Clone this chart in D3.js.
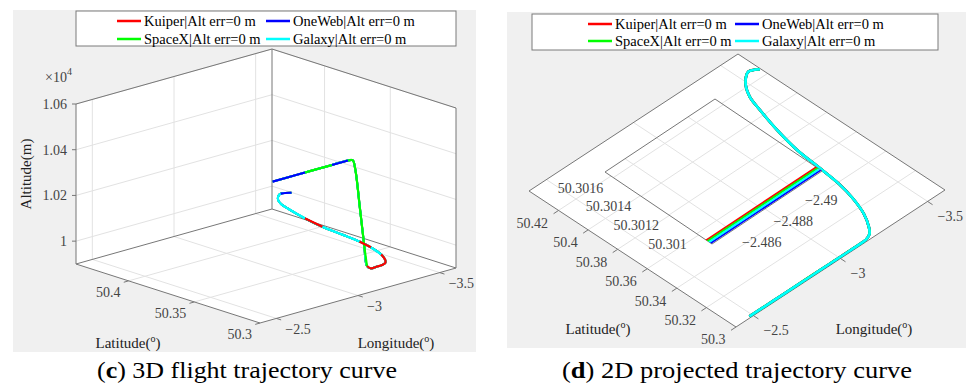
<!DOCTYPE html>
<html>
<head>
<meta charset="utf-8">
<script src="https://cdn.jsdelivr.net/npm/d3@7"></script>
<style>
  body { margin: 0; background: #fff; }
  svg { display: block; font-family: "Liberation Serif", "Times New Roman", serif; }
</style>
</head>
<body>
<svg id="chart" width="971" height="387"></svg>
<script>
// series (all four share the same track, alt error 0 m)
const seriesNames = ["Kuiper", "OneWeb", "SpaceX", "Galaxy"];
const seriesColors = ["#ff0000", "#0000ff", "#00ff00", "#00ffff"];
const altErr = [0, 0, 0, 0];
const latOffset = [0.000031, 0, 0.000021, 0.000010]; // tiny spread, only visible in the zoomed inset

// flight track
const trackLat = [50.3009, 50.3009, 50.3009, 50.3009, 50.3009, 50.3009, 50.3009, 50.3009, 50.3009, 50.3009,
  50.3009, 50.3009, 50.3009, 50.3011, 50.3028, 50.3064, 50.3150, 50.3275, 50.3390, 50.3534,
  50.3706, 50.3877, 50.4037, 50.4138, 50.4203, 50.4256, 50.4274, 50.4266, 50.4247];
const trackLon = [-2.4847, -2.580, -2.683, -2.770, -2.848, -2.946, -2.975, -2.990, -3.020, -3.045,
  -3.062, -3.085, -3.125, -3.156, -3.190, -3.218, -3.262, -3.300, -3.322, -3.336,
  -3.350, -3.380, -3.418, -3.446, -3.479, -3.524, -3.552, -3.574, -3.596];
const trackAlt = [10500, 10500, 10500, 10500, 10500, 10500, 10495, 10455, 10270, 10110,
  10015, 10000, 10000, 10000, 10000, 10000, 10000, 10000, 10000, 10000,
  10000, 10000, 10000, 10000, 10000, 10000, 10000, 10000, 10000];

// which series shows on top along the 3D track (point index ranges)
const topRuns3d = [[1, 0, 2], [2, 2, 4], [1, 4, 5], [2, 5, 10], [0, 10, 16], [3, 16, 17],
  [0, 17, 18], [3, 18, 20], [0, 20, 21], [3, 21, 26], [1, 26, 28]];

// axes
const latDomain = [50.3, 50.44];
const lonDomain = [-2.4, -3.6];
const altDomain = [9900, 10600];
const latTicks3d = [50.3, 50.35, 50.4];
const lonTicks = [-2.5, -3, -3.5];
const altTicks = [10000, 10200, 10400, 10600];
const latTicks2d = [50.3, 50.32, 50.34, 50.36, 50.38, 50.4, 50.42];
const insetLatDomain = [50.30089, 50.30166];
const insetLonDomain = [-2.48473, -2.49171];
const insetLatTicks = [50.301, 50.3012, 50.3014, 50.3016];
const insetLonTicks = [-2.486, -2.488, -2.49];

const svg = d3.select("#chart");
const gridColor = "#e2e2e2", boxColor = "#777", tickText = "#444";

// projection of (lat, lon, alt) onto the picture plane
function makeProj(o, uVec, vVec, wVec, latDom, lonDom, altDom) {
  const su = d3.scaleLinear().domain(latDom).range([0, 1]);
  const sv = d3.scaleLinear().domain(lonDom).range([0, 1]);
  const sw = d3.scaleLinear().domain(altDom).range([0, 1]);
  return (lat, lon, alt) => {
    const u = su(lat), v = sv(lon), w = alt == null ? 0 : sw(alt);
    return [o[0] + u * uVec[0] + v * vVec[0] + w * wVec[0],
            o[1] + u * uVec[1] + v * vVec[1] + w * wVec[1]];
  };
}
const seg = (g, a, b, color, width) => g.append("line")
  .attr("x1", a[0]).attr("y1", a[1]).attr("x2", b[0]).attr("y2", b[1])
  .attr("stroke", color).attr("stroke-width", width || 1);

// panel backgrounds
svg.append("rect").attr("x", 13).attr("y", 10).attr("width", 463).attr("height", 342).attr("fill", "#f0f0f0");
svg.append("rect").attr("x", 507).attr("y", 12).attr("width", 459).attr("height", 336).attr("fill", "#f0f0f0");

function legend(x, y, w, h, lx, rowY) {
  const g = svg.append("g");
  g.append("rect").attr("x", x).attr("y", y).attr("width", w).attr("height", h)
    .attr("fill", "#fff").attr("stroke", "#7a7a7a");
  seriesNames.forEach((name, i) => {
    const cx = lx[i % 2], cy = rowY[Math.floor(i / 2)];
    seg(g, [cx, cy], [cx + 24, cy], seriesColors[i], 2.5);
    g.append("text").attr("x", cx + 27).attr("y", cy + 5).attr("font-size", 14.5)
      .attr("fill", "#000").text(`${name}|Alt err=${altErr[i]} m`);
  });
}

function degLabel(g, x, y, word) {
  const t = g.append("text").attr("x", x).attr("y", y).attr("text-anchor", "middle")
    .attr("font-size", 15).attr("fill", "#222").text(word + "(");
  t.append("tspan").attr("dy", -6).attr("font-size", 10).text("o");
  t.append("tspan").attr("dy", 6).text(")");
}

// ---------- (c) 3D view ----------
{
  const P = makeProj([260, 323], [-184, -59], [196, -55], [0, -160], latDomain, lonDomain, altDomain);
  const g = svg.append("g");
  const [la0, la1] = latDomain, [lo0, lo1] = lonDomain, [a0, a1] = altDomain;
  const poly = [P(la1, lo0, a1), P(la1, lo1, a1), P(la0, lo1, a1), P(la0, lo1, a0), P(la0, lo0, a0), P(la1, lo0, a0)];
  g.append("polygon").attr("points", poly.map(p => p.join(",")).join(" ")).attr("fill", "#fff");

  // grid: floor, left wall (lat max), right wall (lon max)
  latTicks3d.slice(1).forEach(t => {
    seg(g, P(t, lo0, a0), P(t, lo1, a0), gridColor);
    seg(g, P(t, lo1, a0), P(t, lo1, a1), gridColor);
  });
  lonTicks.forEach(t => {
    seg(g, P(la0, t, a0), P(la1, t, a0), gridColor);
    seg(g, P(la1, t, a0), P(la1, t, a1), gridColor);
  });
  altTicks.forEach(t => {
    seg(g, P(la1, lo0, t), P(la1, lo1, t), gridColor);
    seg(g, P(la1, lo1, t), P(la0, lo1, t), gridColor);
  });

  // box
  [[P(la1, lo0, a0), P(la1, lo0, a1)], [P(la1, lo1, a0), P(la1, lo1, a1)], [P(la0, lo1, a0), P(la0, lo1, a1)],
   [P(la1, lo0, a1), P(la1, lo1, a1)], [P(la1, lo1, a1), P(la0, lo1, a1)],
   [P(la1, lo0, a0), P(la1, lo1, a0)], [P(la1, lo1, a0), P(la0, lo1, a0)],
   [P(la0, lo0, a0), P(la1, lo0, a0)], [P(la0, lo0, a0), P(la0, lo1, a0)]]
    .forEach(([a, b]) => seg(g, a, b, boxColor));

  // ticks and labels
  altTicks.forEach(t => {
    const p = P(la1, lo0, t);
    seg(g, [p[0] - 4, p[1]], p, boxColor);
    g.append("text").attr("x", p[0] - 9).attr("y", p[1]).attr("dy", "0.35em")
      .attr("text-anchor", "end").attr("font-size", 14).attr("fill", tickText).text(d3.format(".2f")(t / 1e4).replace(/^1\.00$/, "1"));
  });
  latTicks3d.forEach(t => {
    const p = P(t, lo0, a0);
    seg(g, p, [p[0] - 4.8, p[1] + 1.4], boxColor);
    g.append("text").attr("x", p[0] - 8).attr("y", p[1] + 11).attr("dy", "0.35em")
      .attr("text-anchor", "end").attr("font-size", 14).attr("fill", tickText).text(String(t));
  });
  lonTicks.forEach(t => {
    const p = P(la0, t, a0);
    seg(g, p, [p[0] + 4.8, p[1] + 1.5], boxColor);
    g.append("text").attr("x", p[0] + 9).attr("y", p[1] + 11).attr("dy", "0.35em")
      .attr("font-size", 14).attr("fill", tickText).text(String(t).replace("-", "\u2212"));
  });
  const ex = g.append("text").attr("x", 45).attr("y", 82).attr("font-size", 14).attr("fill", tickText).text("\u00d710");
  ex.append("tspan").attr("dy", -7).attr("font-size", 10).text("4");

  g.append("text").attr("transform", "translate(31,174) rotate(-90)").attr("text-anchor", "middle")
    .attr("font-size", 15).attr("fill", "#222").text("Altitude(m)");
  degLabel(g, 128, 348, "Latitude");
  degLabel(g, 396, 348, "Longitude");

  // track
  const idx = d3.range(trackLat.length);
  const line = d3.line().curve(d3.curveCatmullRom.alpha(0.5))
    .x(i => P(trackLat[i], trackLon[i], trackAlt[i])[0])
    .y(i => P(trackLat[i], trackLon[i], trackAlt[i])[1]);
  seriesNames.forEach((s, k) => {
    g.append("path").attr("d", line(idx)).attr("fill", "none")
      .attr("stroke", seriesColors[k]).attr("stroke-width", 2);
  });
  topRuns3d.forEach(([k, from, to]) => {
    g.append("path").attr("d", line(d3.range(from, to + 1))).attr("fill", "none")
      .attr("stroke", seriesColors[k]).attr("stroke-width", 2.2);
  });

  legend(76, 11, 380, 35, [117, 266], [21, 39]);
}

// ---------- (d) 2D projection ----------
{
  const P = makeProj([736, 327], [-207, -136], [209, -137], [0, 0], latDomain, lonDomain, altDomain);
  const g = svg.append("g");
  const [la0, la1] = latDomain, [lo0, lo1] = lonDomain;
  const floor = [P(la0, lo0), P(la1, lo0), P(la1, lo1), P(la0, lo1)];
  g.append("polygon").attr("points", floor.map(p => p.join(",")).join(" ")).attr("fill", "#fff");
  latTicks2d.slice(1).forEach(t => seg(g, P(t, lo0), P(t, lo1), gridColor));
  lonTicks.forEach(t => seg(g, P(la0, t), P(la1, t), gridColor));
  floor.forEach((p, i) => seg(g, p, floor[(i + 1) % 4], boxColor));

  latTicks2d.forEach(t => {
    const p = P(t, lo0);
    seg(g, p, [p[0] - 5, p[1] + 3.3], boxColor);
    g.append("text").attr("x", p[0] - 10.5).attr("y", p[1] + 12.5).attr("dy", "0.35em")
      .attr("text-anchor", "end").attr("font-size", 14).attr("fill", tickText).text(String(t));
  });
  lonTicks.forEach(t => {
    const p = P(la0, t);
    seg(g, p, [p[0] + 5, p[1] + 3.3], boxColor);
    g.append("text").attr("x", p[0] + 10).attr("y", p[1] + 14.4).attr("dy", "0.35em")
      .attr("font-size", 14).attr("fill", tickText).text(String(t).replace("-", "\u2212"));
  });
  degLabel(g, 598, 334, "Latitude");
  degLabel(g, 874, 334, "Longitude");

  const idx = d3.range(trackLat.length);
  seriesNames.forEach((s, k) => {
    const line = d3.line().curve(d3.curveCatmullRom.alpha(0.5))
      .x(i => P(trackLat[i] + latOffset[k], trackLon[i])[0])
      .y(i => P(trackLat[i] + latOffset[k], trackLon[i])[1]);
    g.append("path").attr("d", line(idx)).attr("fill", "none")
      .attr("stroke", seriesColors[k]).attr("stroke-width", 2.6);
  });

  // zoomed inset of the start of the track
  const Q = makeProj([712, 244], [-107, -72], [110, -73], [0, 0], insetLatDomain, insetLonDomain, altDomain);
  const [ia0, ia1] = insetLatDomain, [io0, io1] = insetLonDomain;
  const iFloor = [Q(ia0, io0), Q(ia1, io0), Q(ia1, io1), Q(ia0, io1)];
  const gi = svg.append("g");
  gi.append("clipPath").attr("id", "insetClip").append("polygon")
    .attr("points", iFloor.map(p => p.join(",")).join(" "));
  gi.append("polygon").attr("points", iFloor.map(p => p.join(",")).join(" ")).attr("fill", "#fff");
  insetLatTicks.forEach(t => seg(gi, Q(t, io0), Q(t, io1), gridColor));
  insetLonTicks.forEach(t => seg(gi, Q(ia0, t), Q(ia1, t), gridColor));
  [[iFloor[0], iFloor[1]], [iFloor[1], iFloor[2]], [iFloor[2], iFloor[3]], [iFloor[3], iFloor[0]]]
    .forEach(([a, b]) => seg(gi, a, b, boxColor));
  insetLatTicks.forEach(t => {
    const p = Q(t, io0);
    gi.append("text").attr("x", p[0] - 10).attr("y", p[1] + 10).attr("dy", "0.35em")
      .attr("text-anchor", "end").attr("font-size", 14).attr("fill", tickText).text(String(t));
  });
  insetLonTicks.forEach(t => {
    const p = Q(ia0, t);
    gi.append("text").attr("x", p[0] + 10).attr("y", p[1] + 11.7).attr("dy", "0.35em")
      .attr("font-size", 14).attr("fill", tickText).text(String(t).replace("-", "\u2212"));
  });
  const gc = gi.append("g").attr("clip-path", "url(#insetClip)");
  seriesNames.forEach((s, k) => {
    const line = d3.line()
      .x(i => Q(trackLat[i] + latOffset[k], trackLon[i])[0])
      .y(i => Q(trackLat[i] + latOffset[k], trackLon[i])[1]);
    gc.append("path").attr("d", line([0, 1])).attr("fill", "none")
      .attr("stroke", seriesColors[k]).attr("stroke-width", 2);
  });

  legend(532, 14, 406, 36, [588, 735], [24, 41]);
}

// captions
[["c", " 3D flight trajectory curve", 247, 300], ["d", " 2D projected trajectory curve", 737, 350]].forEach(([l, rest, x, len]) => {
  const t = svg.append("text").attr("x", x).attr("y", 378).attr("text-anchor", "middle")
    .attr("font-size", 23).attr("fill", "#000")
    .attr("textLength", len).attr("lengthAdjust", "spacingAndGlyphs").text("(");
  t.append("tspan").attr("font-weight", "bold").text(l);
  t.append("tspan").text(")" + rest);
});
</script>
</body>
</html>
